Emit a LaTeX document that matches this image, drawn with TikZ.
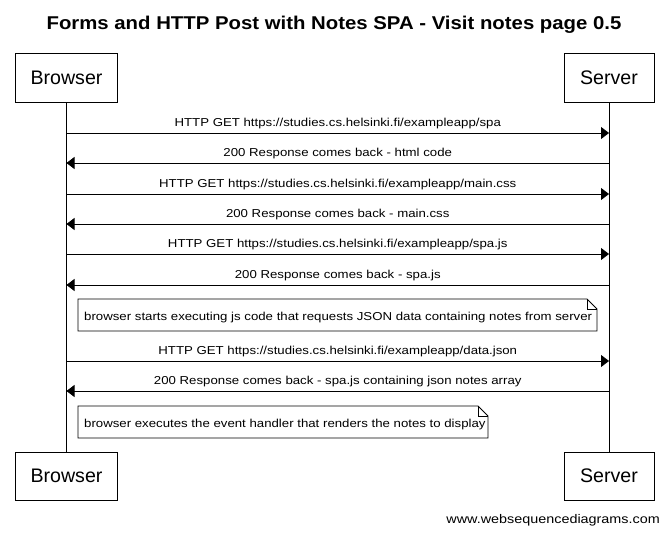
\documentclass[tikz,border=0pt]{standalone}
\usepackage{fontspec}
\setmainfont{Liberation Sans}
\newfontfamily\widefont[FakeStretch=1.15]{Liberation Sans}
\newfontfamily\titlefont[FakeStretch=1.1]{Liberation Sans Bold}
\usetikzlibrary{arrows.meta}
\begin{document}
\begin{tikzpicture}[x=1pt,y=-1pt,
  actor/.style={draw,line width=0.9pt,minimum width=90pt,minimum height=49pt,inner sep=0pt,font=\fontsize{19.6}{23}\selectfont},
  msg/.style={line width=0.8pt,-{Triangle[length=8pt,width=12pt]}},
  lbl/.style={font=\widefont\fontsize{11.5}{14}\selectfont,inner sep=0pt,anchor=base,yshift=6.5pt},
  notetext/.style={font=\widefont\fontsize{11.5}{14}\selectfont,inner sep=0pt,anchor=base west},
  lifeline/.style={line width=0.8pt},
  notebox/.style={line width=0.8pt}
]
\useasboundingbox (0,0) rectangle (668,534);
\fill[white] (0,0) rectangle (668,534);

% title
\node[font=\titlefont\fontsize{18.5}{22}\selectfont,inner sep=0pt,anchor=base] (title) at (334,30) {Forms and HTTP Post with Notes SPA - Visit notes page 0.5};

% participants (top and bottom)
\node[actor,minimum width=102pt] (bt) at (66.5,77.5) {Browser};
\node[actor] (st) at (609,77.5) {Server};
\node[actor,minimum width=102pt,minimum height=48pt] (bb) at (66.5,476) {Browser};
\node[actor,minimum height=48pt] (sb) at (609,476) {Server};

% lifelines
\draw[lifeline] (bt.south) -- (bb.north);
\draw[lifeline] (st.south) -- (sb.north);

% message end points on the lifelines
\foreach \n/\y in {1/133,2/163,3/194,4/224,5/254,6/285,7/361,8/391}{
  \coordinate (b\n) at (66.5,\y);
  \coordinate (s\n) at (609,\y);
}

\draw[msg] (b1) -- node[lbl] (m1) {HTTP GET https://studies.cs.helsinki.fi/exampleapp/spa} (s1);
\draw[msg] (s2) -- node[lbl] (m2) {200 Response comes back - html code} (b2);
\draw[msg] (b3) -- node[lbl] (m3) {HTTP GET https://studies.cs.helsinki.fi/exampleapp/main.css} (s3);
\draw[msg] (s4) -- node[lbl] (m4) {200 Response comes back - main.css} (b4);
\draw[msg] (b5) -- node[lbl] (m5) {HTTP GET https://studies.cs.helsinki.fi/exampleapp/spa.js} (s5);
\draw[msg] (s6) -- node[lbl] (m6) {200 Response comes back - spa.js} (b6);
\draw[msg] (b7) -- node[lbl] (m7) {HTTP GET https://studies.cs.helsinki.fi/exampleapp/data.json} (s7);
\draw[msg] (s8) -- node[lbl] (m8) {200 Response comes back - spa.js containing json notes array} (b8);

% notes with folded corner
\draw[notebox] (78,299) -- (587,299) -- (597,309) -- (597,331) -- (78,331) -- cycle;
\draw[notebox] (587,299) -- (587,309) -- (597,309);
\node[notetext] (n1) at (84,320) {browser starts executing js code that requests JSON data containing notes from server};

\draw[notebox] (78,406) -- (478,406) -- (488,416) -- (488,438) -- (78,438) -- cycle;
\draw[notebox] (478,406) -- (478,416) -- (488,416);
\node[notetext] (n2) at (84,427) {browser executes the event handler that renders the notes to display};

% watermark
\node[font=\widefont\fontsize{12.5}{15}\selectfont,inner sep=0pt,anchor=base east] (wm) at (660,523) {www.websequencediagrams.com};
\end{tikzpicture}
\end{document}
